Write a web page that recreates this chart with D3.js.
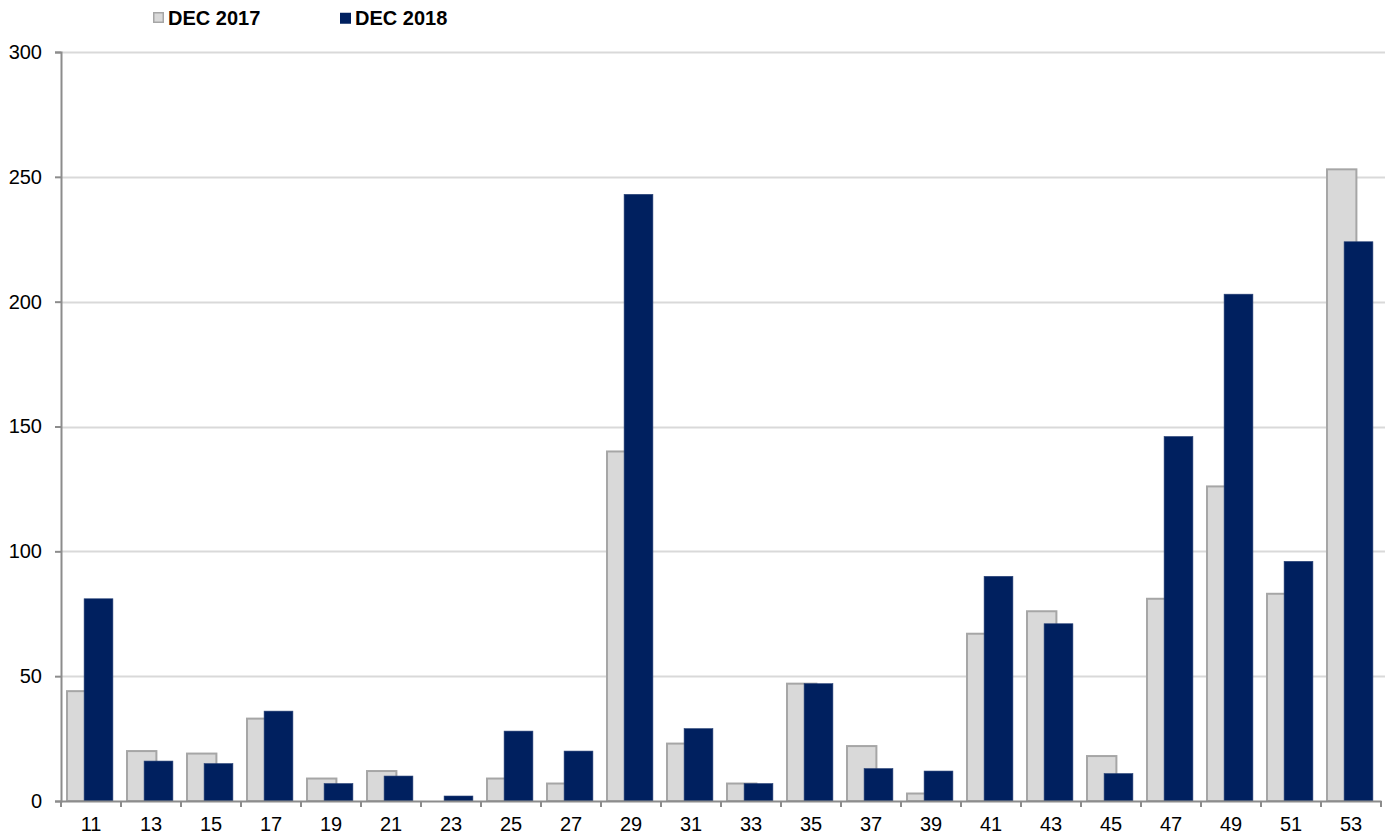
<!DOCTYPE html>
<html>
<head>
<meta charset="utf-8">
<script src="https://cdn.jsdelivr.net/npm/d3@7"></script>
<style>
  body { margin: 0; background: #fff; }
  svg { display: block; font-family: "Liberation Sans", Arial, sans-serif; }
</style>
</head>
<body>
<svg id="chart"></svg>
<script>
  // categories and the two series
  const categories = ['11', '13', '15', '17', '19', '21', '23', '25', '27', '29', '31',
    '33', '35', '37', '39', '41', '43', '45', '47', '49', '51', '53'];
  const dec2017 = [44, 20, 19, 33, 9, 12, 0, 9, 7, 140, 23, 7, 47, 22, 3, 67, 76, 18, 81, 126, 83, 253];
  const dec2018 = [81, 16, 15, 36, 7, 10, 2, 28, 20, 243, 29, 7, 47, 13, 12, 90, 71, 11, 146, 203, 96, 224];
  const yTicks = [0, 50, 100, 150, 200, 250, 300];
  const seriesNames = ['DEC 2017', 'DEC 2018'];

  let width = 1385, height = 838,
    margin = { top: 52, right: 4, bottom: 37, left: 61 },
    svg = d3.select('#chart').attr('width', width).attr('height', height);

  let x = d3.scaleBand().domain(categories)
    .range([margin.left, width - margin.right]).padding(0);
  let y = d3.scaleLinear().domain([0, 300])
    .range([height - margin.bottom, margin.top]);

  // gridlines
  svg.append('g')
    .selectAll('line').data(yTicks.filter(d => d > 0)).enter().append('line')
    .attr('x1', margin.left).attr('x2', width)
    .attr('y1', d => Math.round(y(d)) + 0.5).attr('y2', d => Math.round(y(d)) + 0.5)
    .attr('stroke', '#d9d9d9').attr('stroke-width', 2);

  let bw = x.bandwidth();
  // gray bars (behind)
  svg.append('g')
    .selectAll('rect').data(dec2017).enter().append('rect')
    .attr('x', (d, i) => x(categories[i]) + bw * 0.1)
    .attr('width', bw * 0.49)
    .attr('y', d => y(d))
    .attr('height', d => y(0) - y(d))
    .attr('fill', '#d9d9d9')
    .attr('stroke', d => d > 0 ? '#a6a6a6' : 'none')
    .attr('stroke-width', 2);

  // navy bars (front)
  svg.append('g')
    .selectAll('rect').data(dec2018).enter().append('rect')
    .attr('x', (d, i) => x(categories[i]) + bw * 0.385)
    .attr('width', bw * 0.48)
    .attr('y', d => y(d))
    .attr('height', d => y(0) - y(d))
    .attr('fill', '#00205f')
    .attr('stroke', '#2a4478')
    .attr('stroke-width', 0.6);

  // y axis
  let yAxis = svg.append('g')
    .attr('transform', 'translate(' + margin.left + ',0)')
    .call(d3.axisLeft(y).tickValues(yTicks).tickSize(6).tickPadding(13));
  yAxis.select('.domain').attr('stroke', '#8c8c8c').attr('stroke-width', 2);
  yAxis.selectAll('.tick line').attr('stroke', '#8c8c8c').attr('stroke-width', 2);
  yAxis.selectAll('.tick text').attr('font-size', 20).attr('fill', '#000');

  // x axis
  let xAxis = svg.append('g')
    .attr('transform', 'translate(0,' + y(0) + ')')
    .call(d3.axisBottom(x).tickSize(0).tickPadding(16));
  xAxis.select('.domain').attr('stroke', '#8c8c8c').attr('stroke-width', 2);
  xAxis.selectAll('.tick text').attr('font-size', 20).attr('fill', '#000');
  xAxis.selectAll('.sep').data(categories.concat(['end'])).enter().append('line')
    .attr('class', 'sep')
    .attr('x1', (d, i) => margin.left + i * bw).attr('x2', (d, i) => margin.left + i * bw)
    .attr('y1', 0).attr('y2', 6)
    .attr('stroke', '#8c8c8c').attr('stroke-width', 2);

  // legend
  let legendX = [153, 340];
  let legend = svg.append('g').selectAll('g').data(seriesNames).enter().append('g')
    .attr('transform', (d, i) => 'translate(' + legendX[i] + ',12)');
  legend.append('rect')
    .attr('x', (d, i) => i ? 0 : 0.75).attr('y', 0.75)
    .attr('width', (d, i) => i ? 11 : 9.5).attr('height', (d, i) => i ? 11 : 9.5)
    .attr('fill', (d, i) => i ? '#00205f' : '#d9d9d9')
    .attr('stroke', (d, i) => i ? 'none' : '#a6a6a6')
    .attr('stroke-width', 1.5);
  legend.append('text')
    .attr('x', 15).attr('y', 13)
    .attr('font-size', 20).attr('font-weight', 'bold').attr('fill', '#000')
    .text(d => d);
</script>
</body>
</html>
